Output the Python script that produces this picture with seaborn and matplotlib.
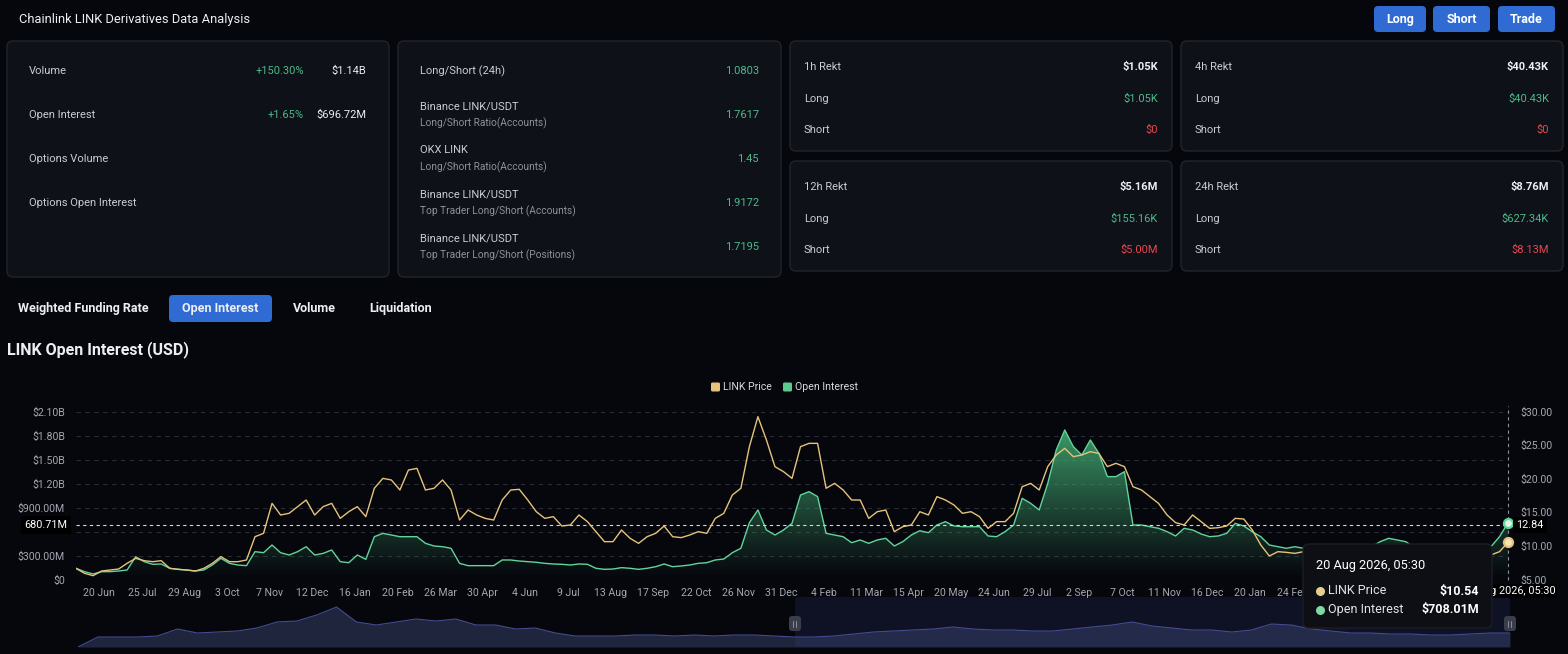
import numpy as np
import pandas as pd
import matplotlib
matplotlib.use("Agg")
import matplotlib.pyplot as plt
import matplotlib.dates as mdates
import matplotlib.transforms as mtransforms
from matplotlib.patches import FancyBboxPatch
import seaborn as sns

W, H = 1568, 654

# weekly samples, last one = 20 Aug 2026
end_date = "2026-08-20"
link_price = [
    6.66, 5.92, 5.57, 6.26, 6.41, 6.56, 7.41, 8.15, 7.80, 7.65,
    7.80, 6.66, 6.51, 6.41, 6.26, 6.66, 7.41, 8.40, 7.65, 7.65,
    7.90, 11.37, 11.87, 16.33, 14.60, 14.85, 15.84, 16.83, 14.60, 15.84,
    16.33, 14.10, 15.09, 15.84, 14.35, 18.57, 20.05, 19.81, 18.32, 21.29,
    21.54, 18.32, 18.57, 19.81, 18.32, 13.85, 15.34, 14.60, 14.10, 13.85,
    16.83, 18.32, 18.42, 16.83, 15.09, 14.10, 14.35, 12.96, 13.11, 14.60,
    13.61, 12.12, 10.63, 10.63, 12.37, 11.13, 10.38, 11.37, 11.87, 12.96,
    11.37, 11.23, 11.62, 12.12, 11.87, 14.10, 14.85, 17.57, 18.57, 24.77,
    29.23, 25.76, 21.79, 21.05, 20.05, 24.77, 25.26, 25.26, 18.57, 19.31,
    18.32, 16.83, 16.83, 14.10, 15.09, 15.34, 12.12, 12.86, 13.11, 15.09,
    14.60, 17.33, 16.83, 16.09, 14.85, 15.09, 14.35, 12.61, 13.61, 13.61,
    14.85, 18.81, 19.31, 18.32, 21.79, 23.53, 24.52, 23.28, 23.53, 24.02,
    23.77, 21.79, 22.29, 21.79, 18.81, 18.32, 17.33, 16.33, 14.60, 13.46,
    13.11, 14.60, 13.61, 12.61, 12.71, 12.96, 14.10, 14.00, 12.37, 10.13,
    8.50, 9.14, 9.04, 8.89, 9.14, 8.90, 8.60, 8.30, 8.70, 9.00,
    8.80, 8.50, 8.90, 9.30, 9.10, 9.40, 9.00, 8.70, 8.40, 8.60,
    8.90, 8.80, 8.60, 8.40, 8.70, 8.40, 8.65, 9.14, 10.54,
]
open_interest_m = [
    140, 98, 69, 98, 98, 106, 119, 285, 223, 190,
    194, 140, 127, 119, 106, 119, 181, 265, 202, 181,
    173, 348, 335, 431, 335, 306, 348, 410, 306, 327,
    369, 223, 210, 306, 252, 535, 577, 556, 535, 535,
    535, 452, 419, 410, 390, 202, 173, 173, 173, 173,
    244, 244, 231, 223, 215, 202, 194, 190, 181, 194,
    190, 140, 127, 131, 148, 140, 127, 140, 160, 194,
    160, 169, 181, 202, 210, 244, 256, 335, 390, 710,
    869, 619, 556, 619, 702, 1056, 1098, 1036, 577, 556,
    535, 460, 494, 452, 494, 515, 419, 473, 556, 610,
    585, 681, 723, 669, 660, 660, 660, 544, 535, 598,
    681, 1015, 952, 869, 1200, 1619, 1869, 1661, 1556, 1744,
    1577, 1286, 1286, 1348, 681, 681, 660, 640, 598, 544,
    640, 619, 569, 535, 544, 577, 702, 669, 598, 535,
    431, 410, 390, 410, 390, 380, 370, 390, 400, 385,
    395, 400, 410, 473, 515, 494, 473, 400, 390, 380,
    385, 395, 390, 380, 385, 390, 410, 535, 708.01,
]
# navigator (full history, relative units)
nav_start = "2020-02-15"
nav_values = [
    0, 10, 10, 10, 11, 18, 14, 15, 16, 19,
    25, 26, 32, 40, 25, 22, 25, 28, 26, 28,
    22, 22, 18, 19, 14, 11, 11, 11, 12, 12,
    11, 12, 11, 12, 12, 11, 10, 10, 11, 13,
    15, 16, 17, 18, 20, 18, 17, 17, 16, 16,
    18, 20, 22, 25, 21, 19, 17, 17, 15, 17,
    23, 22, 18, 16, 14, 14, 13, 13, 12, 12,
    13, 14, 14,
]

left_ticks = [0, 300, 600, 900, 1200, 1500, 1800, 2100]
left_labels = ["$0", "$300.00M", "", "$900.00M", "$1.20B", "$1.50B", "$1.80B", "$2.10B"]
right_ticks = [5, 10, 15, 20, 25, 30]
right_labels = ["$5.00", "$10.00", "$15.00", "$20.00", "$25.00", "$30.00"]
# ticks after 24 Feb sit under the tooltip in the reference
xtick_dates = pd.date_range("2023-06-20", periods=29, freq="35D")

cursor_oi = 680.71
cursor_right = "12.84"
tip_date = "20 Aug 2026, 05:30"
tip_rows = [("LINK Price", "$10.54"), ("Open Interest", "$708.01M")]

card1_rows = [("Volume", "+150.30%", "$1.14B"), ("Open Interest", "+1.65%", "$696.72M"),
              ("Options Volume", "", ""), ("Options Open Interest", "", "")]
card2_rows = [("Long/Short (24h)", "", "1.0803"),
              ("Binance LINK/USDT", "Long/Short Ratio(Accounts)", "1.7617"),
              ("OKX LINK", "Long/Short Ratio(Accounts)", "1.45"),
              ("Binance LINK/USDT", "Top Trader Long/Short (Accounts)", "1.9172"),
              ("Binance LINK/USDT", "Top Trader Long/Short (Positions)", "1.7195")]
rekt_cards = [("1h Rekt", "$1.05K", "$1.05K", "$0"), ("4h Rekt", "$40.43K", "$40.43K", "$0"),
              ("12h Rekt", "$5.16M", "$155.16K", "$5.00M"), ("24h Rekt", "$8.76M", "$627.34K", "$8.13M")]
tabs = ["Weighted Funding Rate", "Open Interest", "Volume", "Liquidation"]

BG = "#06070d"
CARD = "#0e1117"
BORDER = "#20242c"
TXT = "#eceef2"
LBL = "#c9ccd2"
SUB = "#8d929b"
UPTXT = "#4cb98a"
DNTXT = "#e5484d"
BLUE = "#2f6bd3"
GREEN = "#62d39a"
YELLOW = "#e6c27a"
TICK = "#a3a7b0"
GRID = "#272b34"

sns.set_theme(style="dark")
plt.rcParams["font.family"] = ["Roboto", "DejaVu Sans"]
plt.rcParams["axes.unicode_minus"] = False

fig = plt.figure(figsize=(W / 100, H / 100), dpi=100, facecolor=BG)


def px_axes(x0, y0, x1, y1, z):
    return fig.add_axes([x0 / W, 1 - y1 / H, (x1 - x0) / W, (y1 - y0) / H], zorder=z)


def overlay(z):
    a = fig.add_axes([0, 0, 1, 1], zorder=z)
    a.set_xlim(0, W)
    a.set_ylim(H, 0)
    a.axis("off")
    a.patch.set_alpha(0)
    return a


def rbox(a, x0, y0, x1, y1, fc, ec="none", r=6, lw=1.0, z=1):
    a.add_patch(FancyBboxPatch((x0, y0), x1 - x0, y1 - y0,
                               boxstyle=f"round,pad=0,rounding_size={r}",
                               fc=fc, ec=ec, lw=lw, zorder=z))


bg = overlay(0)
bg.set_facecolor(BG)

# header
bg.text(19, 20, "Chainlink LINK Derivatives Data Analysis", color=TXT, fontsize=9.3, va="center")
for name, x0, x1 in [("Long", 1374, 1426), ("Short", 1433, 1490), ("Trade", 1498, 1555)]:
    rbox(bg, x0, 6, x1, 32, BLUE, r=4)
    bg.text((x0 + x1) / 2, 19.5, name, color="white", fontsize=9, weight="bold", ha="center", va="center")

# summary cards
rbox(bg, 7, 41, 389, 277, CARD, BORDER)
for k, (lab, chg, val) in enumerate(card1_rows):
    y = 71 + 44 * k
    bg.text(29, y, lab, color=LBL, fontsize=8, va="center")
    if chg:
        bg.text(304, y, chg, color=UPTXT, fontsize=8, va="center", ha="right")
        bg.text(366, y, val, color=TXT, fontsize=8, va="center", ha="right")

rbox(bg, 398, 41, 781, 277, CARD, BORDER)
for k, (lab, sub, val) in enumerate(card2_rows):
    y = 71 + 44 * k
    if sub:
        bg.text(420, y - 9, lab, color=LBL, fontsize=8, va="center")
        bg.text(420, y + 8.5, sub, color=SUB, fontsize=7.3, va="center")
    else:
        bg.text(420, y, lab, color=LBL, fontsize=8, va="center")
    bg.text(759, y, val, color=UPTXT, fontsize=8, va="center", ha="right")

for k, (title, total, lng, sht) in enumerate(rekt_cards):
    x0 = 790 if k % 2 == 0 else 1181
    y0 = 41 if k < 2 else 161
    rbox(bg, x0, y0, x0 + 382, y0 + 110, CARD, BORDER)
    rows = [(title, total, TXT), ("Long", lng, UPTXT), ("Short", sht, DNTXT)]
    for j, (lab, val, col) in enumerate(rows):
        y = y0 + 26 + 31.5 * j
        bg.text(x0 + 14, y, lab, color=LBL, fontsize=8, va="center")
        bg.text(x0 + 368, y, val, color=col, fontsize=8, va="center", ha="right",
                weight="bold" if j == 0 else "normal")

# tabs
rbox(bg, 169, 295, 272, 322, BLUE, r=4)
for lab, xc in zip(tabs, [83, 220.5, 314.5, 401]):
    bg.text(xc, 308.5, lab, color=TXT, fontsize=9, weight="bold", ha="center", va="center")
bg.text(7, 350, "LINK Open Interest (USD)", color=TXT, fontsize=11.5, weight="bold", va="center")

# navigator background (selected window)
rbox(bg, 795, 597, 1510, 647, "#0e1224", r=3)

# ---------------- main chart ----------------
dates = pd.date_range(end=end_date, periods=len(link_price), freq="7D")
df = pd.DataFrame({"date": dates, "price": link_price, "oi": open_interest_m})

ax = px_axes(76, 411.5, 1508, 579.5, 1)
ax.set_facecolor("none")
for v in left_ticks:
    ax.axhline(v, color=GRID, lw=0.8, ls=(0, (4, 4)), zorder=0)

sns.lineplot(data=df, x="date", y="oi", ax=ax, color=GREEN, lw=1.0, zorder=3)
poly = ax.fill_between(df["date"], df["oi"], 0, color="none", lw=0)
x0n, x1n = mdates.date2num(dates[0]), mdates.date2num(dates[-1])
top = max(open_interest_m)
t = np.linspace(1, 0, 256)
grad = np.zeros((256, 1, 4))
grad[..., 0], grad[..., 1], grad[..., 2] = 0.27, 0.68, 0.46
grad[..., 3] = (0.88 * t ** 1.1)[:, None]
im = ax.imshow(grad, extent=[x0n, x1n, 0, top], aspect="auto", origin="upper", zorder=2)
im.set_clip_path(poly.get_paths()[0], transform=ax.transData)

ax.set_xlim(dates[0], dates[-1])
ax.set_ylim(0, 2100)
ax.set_yticks(left_ticks, left_labels)
ax.set_xticks(xtick_dates, [f"{d.day} {d.strftime('%b')}" for d in xtick_dates])
ax.tick_params(axis="y", length=0, pad=8, labelsize=7.6, labelcolor=TICK)
ax.tick_params(axis="x", length=0, pad=6, labelsize=7.6, labelcolor=TICK)
ax.set_xlabel("")
ax.set_ylabel("")
ax.grid(False)
for s in ax.spines.values():
    s.set_visible(False)

ax2 = ax.twinx()
sns.lineplot(data=df, x="date", y="price", ax=ax2, color=YELLOW, lw=1.0)
ax2.set_ylim(5, 30)
ax2.set_xlim(dates[0], dates[-1])
ax2.set_yticks(right_ticks, right_labels)
ax2.tick_params(axis="y", length=0, pad=9, labelsize=7.6, labelcolor=TICK)
ax2.set_ylabel("")
ax2.grid(False)
for s in ax2.spines.values():
    s.set_visible(False)

# crosshair
ax.axhline(cursor_oi, color="#d4d6dc", lw=0.8, ls=(0, (3, 3)), zorder=4)
ax.axvline(dates[-1], ymin=0, ymax=1.03, color="#8c9099", lw=0.8, ls=(0, (3, 3)), clip_on=False, zorder=4)
blend = mtransforms.blended_transform_factory(ax.transAxes, ax.transData)
ax.text(-0.006, cursor_oi, "680.71M", transform=blend, ha="right", va="center", color="white",
        fontsize=7.8, zorder=10, clip_on=False,
        bbox=dict(boxstyle="square,pad=0.35", fc="black", ec="none"))
ax.text(1.006, cursor_oi, cursor_right, transform=blend, ha="left", va="center", color="white",
        fontsize=7.8, zorder=10, clip_on=False,
        bbox=dict(boxstyle="square,pad=0.3", fc="black", ec="none"))
ax.scatter([dates[-1]], [open_interest_m[-1]], s=42, fc="#dff7ea", ec=GREEN, lw=1.6, zorder=8, clip_on=False)
ax2.scatter([dates[-1]], [link_price[-1]], s=42, fc="#f8e6bb", ec=YELLOW, lw=1.6, zorder=8, clip_on=False)

# ---------------- navigator ----------------
nav_dates = pd.date_range(nav_start, end_date, periods=len(nav_values))
nav = px_axes(78, 597, 1510, 647, 1)
nav.set_facecolor("none")
nav.fill_between(nav_dates, nav_values, 0, color="#3a4470", alpha=0.5, lw=0)
sns.lineplot(x=nav_dates, y=nav_values, ax=nav, color="#444c90", lw=0.8)
nav.set_xlim(nav_dates[0], nav_dates[-1])
nav.set_ylim(0, 50)
nav.axis("off")

# ---------------- overlay: legend, axis pointer label, tooltip, handles ----------------
top_ov = overlay(5)
for x0, col, lab in [(711, YELLOW, "LINK Price"), (783, "#5cc98f", "Open Interest")]:
    rbox(top_ov, x0, 382.5, x0 + 9, 391.5, col, r=1.5)
    top_ov.text(x0 + 12, 387, lab, color="#d6d9de", fontsize=7.6, va="center")

for hx in (795, 1510):
    rbox(top_ov, hx - 6, 616, hx + 6, 631, "#3a3e4a", r=3)
    top_ov.plot([hx - 1.5, hx - 1.5], [620.5, 626.5], color="#8a8e99", lw=0.7)
    top_ov.plot([hx + 1.5, hx + 1.5], [620.5, 626.5], color="#8a8e99", lw=0.7)

# x axis pointer label: drawn under the tooltip, only its right part shows
xl = top_ov.text(1509, 591, tip_date, ha="center", va="center", color="white", fontsize=7.8,
                 zorder=0.5, bbox=dict(boxstyle="square,pad=0.15", fc="black", ec="none"))
clip = mtransforms.TransformedBbox(mtransforms.Bbox([[1493, 578], [1568, 606]]), top_ov.transData)
xl.set_clip_on(True)
xl.set_clip_box(clip)

rbox(top_ov, 1303, 544, 1492, 628, "#0d0f14", "#1b1e25", r=6, z=1)
top_ov.text(1316, 566, tip_date, color="white", fontsize=9.2, va="center", zorder=4)
for j, ((lab, val), col) in enumerate(zip(tip_rows, ["#e8cf8e", "#7fd8a6"])):
    y = 591 + 18.5 * j
    top_ov.scatter([1320.5], [y], s=30, color=col, zorder=6)
    top_ov.text(1328, y, lab, color="#e2e4e8", fontsize=9, va="center", zorder=4)
    top_ov.text(1479, y, val, color="white", fontsize=9, va="center", ha="right", weight="bold", zorder=4)

fig.savefig("out.png", dpi=100, facecolor=BG)
